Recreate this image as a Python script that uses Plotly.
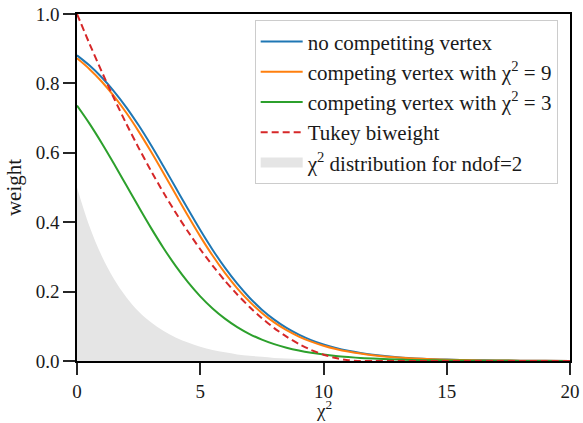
import plotly.graph_objects as go

# chi^2 sample positions
chi2 = [0, 0.5, 1, 1.5, 2, 2.5, 3, 3.5, 4, 4.5, 5, 5.5, 6, 6.5, 7, 7.5, 8, 8.5,
        9, 9.5, 10, 10.5, 11, 11.5, 12, 13, 14, 15, 16, 17, 18, 19, 20]

w_none = [0.8808, 0.8520, 0.8176, 0.7773, 0.7311, 0.6792, 0.6225, 0.5622, 0.5000,
          0.4378, 0.3775, 0.3208, 0.2689, 0.2227, 0.1824, 0.1480, 0.1192, 0.0953,
          0.0759, 0.0601, 0.0474, 0.0373, 0.0293, 0.0230, 0.0180, 0.0110, 0.0067,
          0.0041, 0.0025, 0.0015, 0.0009, 0.00055, 0.00034]

w_comp9 = [0.8723, 0.8417, 0.8055, 0.7633, 0.7153, 0.6618, 0.6037, 0.5427, 0.4803,
           0.4185, 0.3592, 0.3039, 0.2537, 0.2093, 0.1710, 0.1384, 0.1112, 0.0888,
           0.0705, 0.0558, 0.0440, 0.0346, 0.0271, 0.0213, 0.0166, 0.0102, 0.0062,
           0.0038, 0.0023, 0.0014, 0.00084, 0.00051, 0.00031]

w_comp3 = [0.7361, 0.6848, 0.6285, 0.5686, 0.5065, 0.4442, 0.3837, 0.3265, 0.2741,
           0.2272, 0.1863, 0.1513, 0.1220, 0.0976, 0.0777, 0.0616, 0.0486, 0.0383,
           0.0301, 0.0236, 0.0185, 0.0144, 0.0113, 0.0088, 0.0069, 0.0042, 0.0025,
           0.0015, 0.00094, 0.00057, 0.00034, 0.00021, 0.00013]

w_tukey = [1.0, 0.9154, 0.8345, 0.7573, 0.6839, 0.6143, 0.5483, 0.4861, 0.4277,
           0.3730, 0.3220, 0.2748, 0.2313, 0.1916, 0.1556, 0.1233, 0.0948, 0.0701,
           0.0490, 0.0318, 0.0182, 0.0084, 0.0023, 0.00003, 0, 0, 0,
           0, 0, 0, 0, 0, 0]

chi2_pdf = [0.5, 0.389, 0.303, 0.236, 0.184, 0.143, 0.112, 0.087, 0.068, 0.053,
            0.041, 0.032, 0.025, 0.019, 0.015, 0.012, 0.009, 0.0071, 0.0056,
            0.0043, 0.0034, 0.0026, 0.0020, 0.0016, 0.0012, 0.0008, 0.0005,
            0.0003, 0.0002, 0.0001, 0.00006, 0.00004, 0.00002]

labels = ["no competiting vertex",
          "competing vertex with χ<sup>2</sup> = 9",
          "competing vertex with χ<sup>2</sup> = 3",
          "Tukey biweight",
          "χ<sup>2</sup> distribution for ndof=2"]
x_title = "χ<sup>2</sup>"
y_title = "weight"

FONT = "Liberation Serif, Tinos, Times New Roman, serif"
TXT = "#1a1a1a"
FILL = "#e5e5e5"

fig = go.Figure()
# shaded chi^2 pdf (legend entry drawn by a proxy below)
fig.add_trace(go.Scatter(x=chi2, y=chi2_pdf, fill="tozeroy", mode="none",
                         fillcolor=FILL, showlegend=False, line_shape="spline",
                         hoverinfo="skip"))
fig.add_trace(go.Scatter(x=chi2, y=w_none, mode="lines", name=labels[0], legendrank=1,
                         legendgroup="a", line=dict(color="#1f77b4", width=2, shape="spline")))
fig.add_trace(go.Scatter(x=chi2, y=w_comp9, mode="lines", name=labels[1], legendrank=2,
                         legendgroup="b", line=dict(color="#ff7f0e", width=2, shape="spline")))
fig.add_trace(go.Scatter(x=chi2, y=w_comp3, mode="lines", name=labels[2], legendrank=3,
                         legendgroup="c", line=dict(color="#2ca02c", width=2, shape="spline")))
fig.add_trace(go.Scatter(x=chi2, y=w_tukey, mode="lines", name=labels[3], legendrank=4,
                         legendgroup="d", line=dict(color="#d62728", width=2, dash="7px,4px",
                                                   shape="spline", smoothing=0.5)))
# legend proxy for the shaded area
fig.add_trace(go.Scatter(x=[None], y=[None], mode="lines", name=labels[4], legendrank=5,
                         legendgroup="e", line=dict(color=FILL, width=14)))

axis_common = dict(showline=True, linecolor="black", linewidth=1.5, mirror=True,
                   ticks="outside", ticklen=12, tickwidth=1.5, tickcolor="#262626",
                   showgrid=False, zeroline=False, automargin=False,
                   tickfont=dict(family=FONT, size=19, color=TXT))

fig.update_xaxes(range=[0, 20], tickvals=[0, 5, 10, 15, 20], **axis_common)
fig.update_yaxes(range=[0, 1], tickvals=[0, 0.2, 0.4, 0.6, 0.8, 1.0], tickformat=".1f",
                 title=dict(text=y_title, font=dict(family=FONT, size=21, color=TXT),
                            standoff=8),
                 **axis_common)

fig.add_annotation(text=x_title, xref="paper", yref="paper", x=0.5, y=-0.1775,
                   xanchor="center", yanchor="bottom", showarrow=False,
                   font=dict(family=FONT, size=19, color=TXT))

fig.update_layout(
    width=583, height=423,
    margin=dict(l=77, r=13, t=14, b=62),
    paper_bgcolor="white", plot_bgcolor="white",
    font=dict(family=FONT, size=19, color=TXT),
    showlegend=True,
    legend=dict(x=0.975, y=0.982, xanchor="right", yanchor="top",
                bgcolor="rgba(255,255,255,0.8)", bordercolor="#cccccc", borderwidth=1,
                font=dict(family=FONT, size=21, color=TXT),
                traceorder="grouped", tracegroupgap=0, itemwidth=42),
)

fig.write_html("out.html")
